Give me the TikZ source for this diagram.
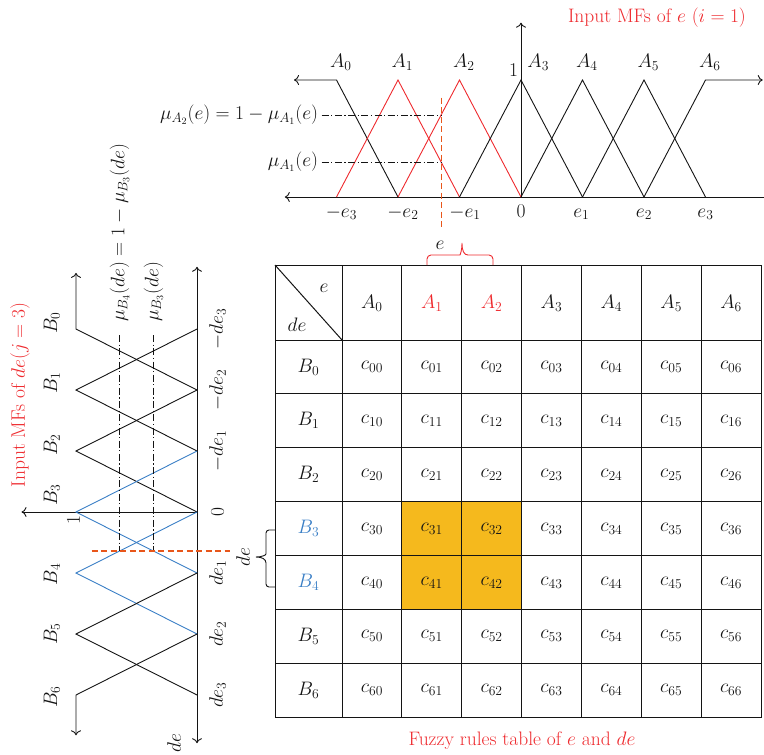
\RequirePackage{fix-cm}
\documentclass[tikz,border=0pt]{standalone}
\usepackage{xcolor}
\definecolor{ink}{HTML}{141414}
\definecolor{mfRed}{HTML}{EE2A2E}
\definecolor{mfBlue}{HTML}{3A7FC6}
\definecolor{cutOrange}{HTML}{E8561A}
\definecolor{ruleGold}{HTML}{F5B91D}
\usetikzlibrary{arrows.meta}
\tikzset{>={Computer Modern Rightarrow[length=5pt,width=10pt]},
  mf/.style={line width=0.9pt,ink},
  redmf/.style={mf,mfRed},
  bluemf/.style={mf,mfBlue},
  guide/.style={line width=0.8pt,ink,dash pattern=on 7pt off 2.5pt on 1.2pt off 2.5pt},
  cutline/.style={line width=1.1pt,draw=cutOrange,dash pattern=on 6pt off 3.5pt},
  tblline/.style={line width=1pt,ink},
  bracepath/.style={line width=0.9pt},
  lbl/.style={font=\fontsize{19.5}{23}\selectfont,inner sep=1pt,text=ink},
  vlbl/.style={lbl,rotate=90}}

\begin{document}
\begin{tikzpicture}[x=1pt,y=-1pt]
  \useasboundingbox (0,0) rectangle (764,755);

  % MFs of e
  \begin{scope}[shift={(521,197)},x=61.5pt,y=117pt]
    \draw[mf,->] (0,0) -- (0,1.49);
    \draw[mf,->] (3.95,0) -- (-3.84,0);
    \draw[mf,->] (-2,0) -- (-3,1) -- (-3.69,1);
    \draw[redmf] (-3,0) -- (-2,1) -- (-1,0);
    \draw[redmf] (-2,0) -- (-1,1) -- (0,0);
    \foreach \k in {0,1,2} \draw[mf] (\k-1,0) -- (\k,1) -- (\k+1,0);
    \draw[mf,->] (2,0) -- (3,1) -- (3.93,1);
    \draw[guide] (-3.24,0.7) -- (-1.293,0.7);
    \draw[guide] (-3.24,0.3) -- (-1.293,0.3);
    \draw[cutline,line width=1.3pt] (-1.293,0.85) -- (-1.293,-0.28);
    \foreach \k/\p in {0/-2.93,1/-1.93,2/-0.93,3/0.28,4/1.07,5/2.07,6/3.07}
      \node[lbl,anchor=base] (lA\k) at (\p,1.11) {$A_\k$};
    \node[lbl,anchor=base east] (oneE) at (-0.03,1.026) {$1$};
    \foreach \n/\lab/\p in {m3/-e_3/-2.92,m2/-e_2/-1.92,m1/-e_1/-0.91,z/0/0,p1/e_1/0.98,p2/e_2/2.0,p3/e_3/3.0}
      \node[lbl,anchor=base] (te\n) at (\p,-0.171) {$\lab$};
    \node[lbl,anchor=east] (muA2) at (-3.28,0.7) {$\mu_{A_2}(e)=1-\mu_{A_1}(e)$};
    \node[lbl,anchor=east] (muA1) at (-3.28,0.3) {$\mu_{A_1}(e)$};
  \end{scope}
  \node[lbl,text=mfRed] (eTitle) at (657,18) {Input MFs of $e$ $(i=1)$};

  % MFs of de
  \begin{scope}[shift={(197,512)},x={(0pt,-61pt)},y={(-121pt,0pt)}]
    \draw[mf,<->] (-4.02,0) -- (3.79,0);
    \draw[mf,->] (0,0) -- (0,1.45);
    \draw[mf,->] (-2,0) -- (-3,1) -- (-3.92,1);
    \foreach \k in {-2,-1} \draw[mf] (\k-1,0) -- (\k,1) -- (\k+1,0);
    \draw[bluemf] (-1,0) -- (0,1) -- (1,0);
    \draw[bluemf] (0,0) -- (1,1) -- (2,0);
    \draw[mf] (1,0) -- (2,1) -- (3,0);
    \draw[mf,->] (2,0) -- (3,1) -- (3.66,1);
    \draw[guide] (-2.9,0.64) -- (0.64,0.64);
    \draw[guide] (-2.9,0.36) -- (0.64,0.36);
    \draw[cutline] (0.64,0.87) -- (0.64,-0.27);
    \foreach \k/\p in {0/-3.1,1/-2.12,2/-1.1,3/-0.28,4/1.02,5/2.0,6/3.03}
      \node[vlbl] (lB\k) at (\p,1.2) {$B_\k$};
    \node[vlbl] (oneDe) at (0.13,1.02) {$1$};
    \foreach \n/\lab/\p in {m3/-de_3/-3,m2/-de_2/-2,m1/-de_1/-1,z/0/0,p1/de_1/1,p2/de_2/2,p3/de_3/3}
      \node[vlbl] (tde\n) at (\p,-0.17) {$\lab$};
    \node[vlbl] (deAxis) at (3.79,0.19) {$de$};
    \node[vlbl,anchor=west] (muB4) at (-3.1,0.64) {$\mu_{B_4}(de)=1-\mu_{B_3}(de)$};
    \node[vlbl,anchor=west] (muB3) at (-3.1,0.36) {$\mu_{B_3}(de)$};
  \end{scope}
  \node[vlbl,text=mfRed] (deTitle) at (20,395) {Input MFs of $de(j=3)$};

  % rules table
  \fill[ruleGold] (401.9,501.6) rectangle (521.6,609.3);
  \draw[tblline] (275,265) rectangle (761,717);
  \foreach \c in {0,...,6} \draw[tblline] ({342+59.86*\c},265) -- ({342+59.86*\c},717);
  \foreach \r in {0,...,6} \draw[tblline] (275,{340+53.86*\r}) -- (761,{340+53.86*\r});
  \draw[tblline] (275,265) -- (342,340);
  \node[lbl] (hE) at (324,288) {$e$};
  \node[lbl] (hDe) at (297,325) {$de$};
  \foreach \c/\col in {0/ink,1/mfRed,2/mfRed,3/ink,4/ink,5/ink,6/ink}
    \node[lbl,text=\col] (hA\c) at ({371.9+59.86*\c},303) {$A_\c$};
  \foreach \r/\col in {0/ink,1/ink,2/ink,3/mfBlue,4/mfBlue,5/ink,6/ink}
    \node[lbl,text=\col] (hB\r) at (308.5,{366.9+53.86*\r}) {$B_\r$};
  \foreach \r in {0,...,6} {
    \foreach \c in {0,...,6} {
      \node[lbl] (c\r\c) at ({371.9+59.86*\c},{366.9+53.86*\r}) {$c_{\r\c}$};
    }
  }
  \node[lbl,text=mfRed] (tblTitle) at (522,741) {Fuzzy rules table of $e$ and $de$};

  % braces
  \draw[bracepath,mfRed] (427,265) [rounded corners=4pt] -- (427,255) -- (456,255) [sharp corners]
    .. controls (460,255) and (462,251) .. (462,243)
    .. controls (462,251) and (464,255) .. (468,255) [rounded corners=4pt] -- (493,255) -- (493,265);
  \node[lbl] (braceE) at (440,245) {$e$};
  \draw[bracepath,ink] (275,530) [rounded corners=3pt] -- (266,530) -- (266,551) [sharp corners]
    .. controls (266,555) and (262,557) .. (256,557)
    .. controls (262,557) and (266,559) .. (266,563) [rounded corners=3pt] -- (266,587) -- (275,587);
  \node[vlbl] (braceDe) at (243,557) {$de$};
\end{tikzpicture}
\end{document}
